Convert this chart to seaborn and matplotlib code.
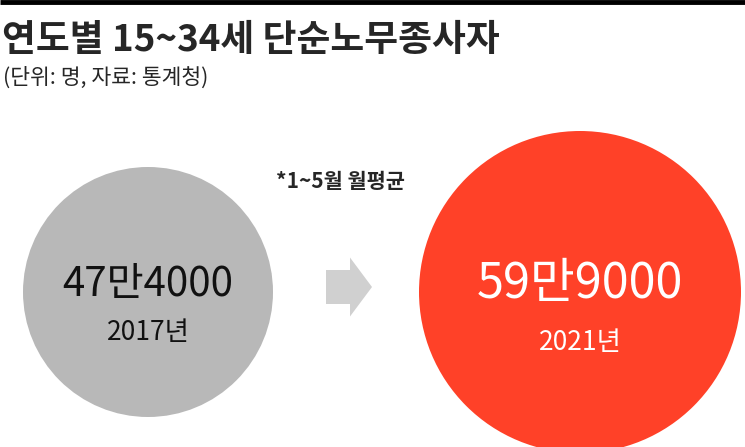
import matplotlib
matplotlib.use("Agg")
import matplotlib.pyplot as plt
import seaborn as sns
from matplotlib.patches import Circle, FancyArrow

# data
years = ["2017년", "2021년"]
values = ["47만4000", "59만9000"]
title = "연도별 15~34세 단순노무종사자"
subtitle = "(단위: 명, 자료: 통계청)"
note = "*1~5월 월평균"

sns.set_theme(style="white")
plt.rcParams['font.family'] = ['Noto Sans CJK KR', 'DejaVu Sans']

W, H = 745, 447
fig = plt.figure(figsize=(W / 100, H / 100), dpi=100)
ax = fig.add_axes([0, 0, 1, 1])
ax.set_xlim(0, W)
ax.set_ylim(H, 0)
ax.axis("off")

# top rule
ax.plot([0, W], [2, 2], color="black", lw=3.5, solid_capstyle="butt")

ax.text(2, 40, title, fontsize=26.5, fontweight=900, va="center", ha="left")
ax.text(3, 78, subtitle, fontsize=15.5, va="center", ha="left")
ax.text(340, 182, note, fontsize=15, fontweight="bold", va="center", ha="center")

centers = [(148, 292), (580, 292)]
radii = [125, 161]
fills = ["#b8b8b8", "#ff4128"]
txt_colors = ["#111111", "white"]
value_sizes = [29, 35]
year_offsets = [40, 50]

for (cx, cy), r, fc, tc, vs, dy, val, yr in zip(centers, radii, fills, txt_colors,
                                                 value_sizes, year_offsets,
                                                 values, years):
    ax.add_patch(Circle((cx, cy), r, facecolor=fc, edgecolor="none"))
    ax.text(cx, cy - 8, val, fontsize=vs, color=tc, ha="center", va="center")
    ax.text(cx, cy + dy, yr, fontsize=19, color=tc, ha="center", va="center")

# arrow between the circles
ax.add_patch(FancyArrow(326, 287, 24, 0, width=34, head_width=59,
                        head_length=22, length_includes_head=False,
                        facecolor="#d0d0d0", edgecolor="none"))

fig.savefig("out.png", dpi=100)
